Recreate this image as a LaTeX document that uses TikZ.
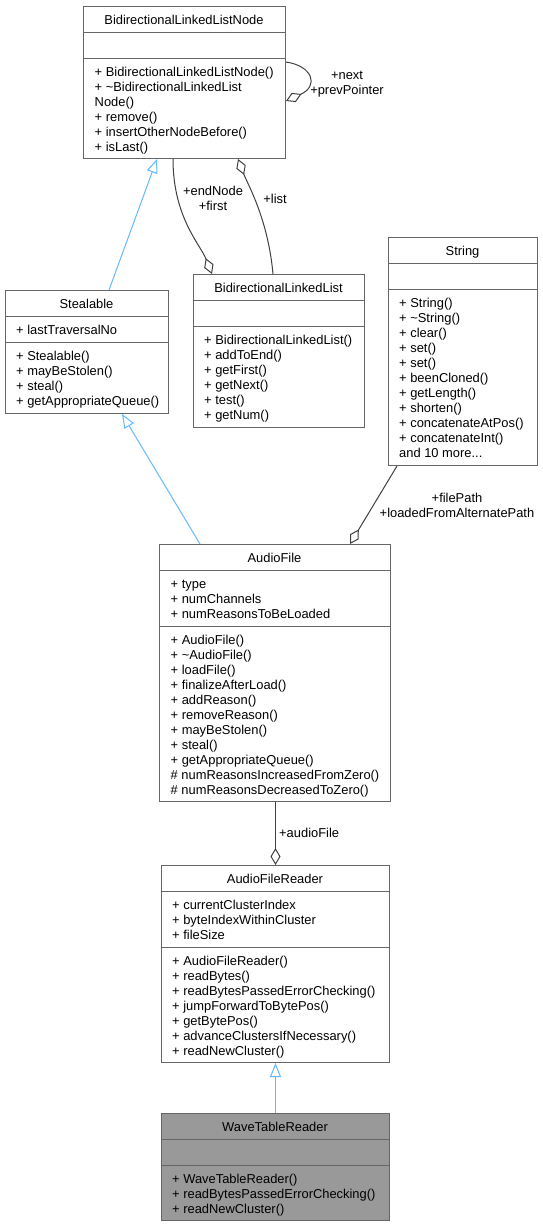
\documentclass[tikz,border=0pt]{standalone}
\usepackage{fontspec}
\setmainfont{Liberation Sans}
\usetikzlibrary{arrows.meta,calc}
\definecolor{boxgray}{HTML}{666666}
\definecolor{edgegray}{HTML}{404040}
\definecolor{inhblue}{HTML}{63B8FF}
\definecolor{curfill}{HTML}{999999}
\newcommand{\tdots}{...}
\newcommand{\mlines}[4]{%
  \foreach \t [count=\i] in {#4} {\node[txt, anchor=base west] (#1\i) at (#2, {#3+15*(\i-1)}) {\t};}}
\begin{document}
\begin{tikzpicture}[x=1pt, y=-1pt,
  txt/.style={inner sep=0pt, font=\fontsize{12.9}{15}\selectfont},
  lbl/.style={inner sep=0pt, align=center, font=\fontsize{12.9}{15}\selectfont},
  box/.style={draw=boxgray, line width=1pt, fill=white, inner sep=0pt, rectangle},
  sepline/.style={draw=boxgray, line width=1pt},
  inh/.style={draw=inhblue, line width=1pt, -{Triangle[open, length=14pt, width=11pt]}},
  agg/.style={draw=edgegray, line width=1pt, -{Diamond[open, length=17pt, width=10pt]}}]
\useasboundingbox (0,0) rectangle (543,1226);

% ---------- BidirectionalLinkedListNode
\node[box, minimum width=202pt, minimum height=152pt, anchor=north west] (bln) at (83,6) {};
\draw[sepline] (83,32) -- (285,32) (83,58) -- (285,58);
\node[txt, anchor=base] (blnT) at (184,24) {BidirectionalLinkedListNode};
\mlines{blnM}{94.5}{76}{+ BidirectionalLinkedListNode(),+ \textasciitilde BidirectionalLinkedList,Node(),+ remove(),+ insertOtherNodeBefore(),+ isLast()}

% ---------- Stealable
\node[box, minimum width=163pt, minimum height=123pt, anchor=north west] (steal) at (5,290) {};
\draw[sepline] (5,316) -- (168,316) (5,342) -- (168,342);
\node[txt, anchor=base] (stealT) at (86.5,308) {Stealable};
\mlines{stealA}{16}{334}{+ lastTraversalNo}
\mlines{stealM}{16}{360}{+ Stealable(),+ mayBeStolen(),+ steal(),+ getAppropriateQueue()}

% ---------- BidirectionalLinkedList
\node[box, minimum width=171pt, minimum height=153pt, anchor=north west] (bll) at (193,274) {};
\draw[sepline] (193,300) -- (364,300) (193,326) -- (364,326);
\node[txt, anchor=base] (bllT) at (278.5,292) {BidirectionalLinkedList};
\mlines{bllM}{204}{344}{+ BidirectionalLinkedList(),+ addToEnd(),+ getFirst(),+ getNext(),+ test(),+ getNum()}

% ---------- String
\node[box, minimum width=149pt, minimum height=228pt, anchor=north west] (str) at (388,237) {};
\draw[sepline] (388,263) -- (537,263) (388,289) -- (537,289);
\node[txt, anchor=base] (strT) at (462.5,255) {String};
\mlines{strM}{399}{307}{+ String(),+ \textasciitilde String(),+ clear(),+ set(),+ set(),+ beenCloned(),+ getLength(),+ shorten(),+ concatenateAtPos(),+ concatenateInt(),and 10 more\tdots}

% ---------- AudioFile
\node[box, minimum width=231pt, minimum height=257pt, anchor=north west] (af) at (159,544) {};
\draw[sepline] (159,570) -- (390,570) (159,626) -- (390,626);
\node[txt, anchor=base] (afT) at (274.5,562) {AudioFile};
\mlines{afA}{170.5}{588}{+ type,+ numChannels,+ numReasonsToBeLoaded}
\mlines{afM}{170.5}{644}{+ AudioFile(),+ \textasciitilde AudioFile(),+ loadFile(),+ finalizeAfterLoad(),+ addReason(),+ removeReason(),+ mayBeStolen(),+ steal(),+ getAppropriateQueue(),\# numReasonsIncreasedFromZero(),\# numReasonsDecreasedToZero()}

% ---------- AudioFileReader
\node[box, minimum width=228pt, minimum height=197pt, anchor=north west] (afr) at (161,865) {};
\draw[sepline] (161,891) -- (389,891) (161,947) -- (389,947);
\node[txt, anchor=base] (afrT) at (275,883) {AudioFileReader};
\mlines{afrA}{172}{909}{+ currentClusterIndex,+ byteIndexWithinCluster,+ fileSize}
\mlines{afrM}{172}{965}{+ AudioFileReader(),+ readBytes(),+ readBytesPassedErrorChecking(),+ jumpForwardToBytePos(),+ getBytePos(),+ advanceClustersIfNecessary(),+ readNewCluster()}

% ---------- WaveTableReader
\node[box, fill=curfill, minimum width=228pt, minimum height=107pt, anchor=north west] (wtr) at (161,1113) {};
\draw[sepline] (161,1139) -- (389,1139) (161,1165) -- (389,1165);
\node[txt, anchor=base] (wtrT) at (275,1131) {WaveTableReader};
\mlines{wtrM}{172}{1183}{+ WaveTableReader(),+ readBytesPassedErrorChecking(),+ readNewCluster()}

% ---------- connectors
\draw[inh] ($(steal.north west)+(104,0)$) -- ($(bln.south west)+(74,0)$);
\draw[agg] ($(bln.south west)+(90,0)$) .. controls +(0,58) and +(-12,-30) .. ($(bll.north west)+(19,0)$);
\node[lbl] (lblEnd) at (213,198) {+endNode\\+first};
\draw[agg] ($(bll.north west)+(80,0)$) .. controls +(-5,-55) and +(10,26) .. ($(bln.south west)+(155,0)$);
\node[lbl] (lblList) at (275,199) {+list};
\draw[agg] ($(bln.north east)+(0,56)$) .. controls +(27,4) and +(33,-15) .. ($(bln.north east)+(0,95)$);
\node[lbl] (lblNext) at (347,84) {+next\\+prevPointer};
\draw[agg] ($(str.south west)+(9,0)$) -- ($(af.north west)+(191,0)$);
\node[lbl] (lblFile) at (457,505) {+filePath\\+loadedFromAlternatePath};
\draw[inh] ($(af.north west)+(41,0)$) -- ($(steal.south west)+(117,0)$);
\draw[agg] (af.south -| afr.north) -- (afr.north);
\node[lbl, anchor=west] (lblAudio) at (279,833) {+audioFile};
\draw[inh] (wtr.north) -- (afr.south);
\end{tikzpicture}
\end{document}
